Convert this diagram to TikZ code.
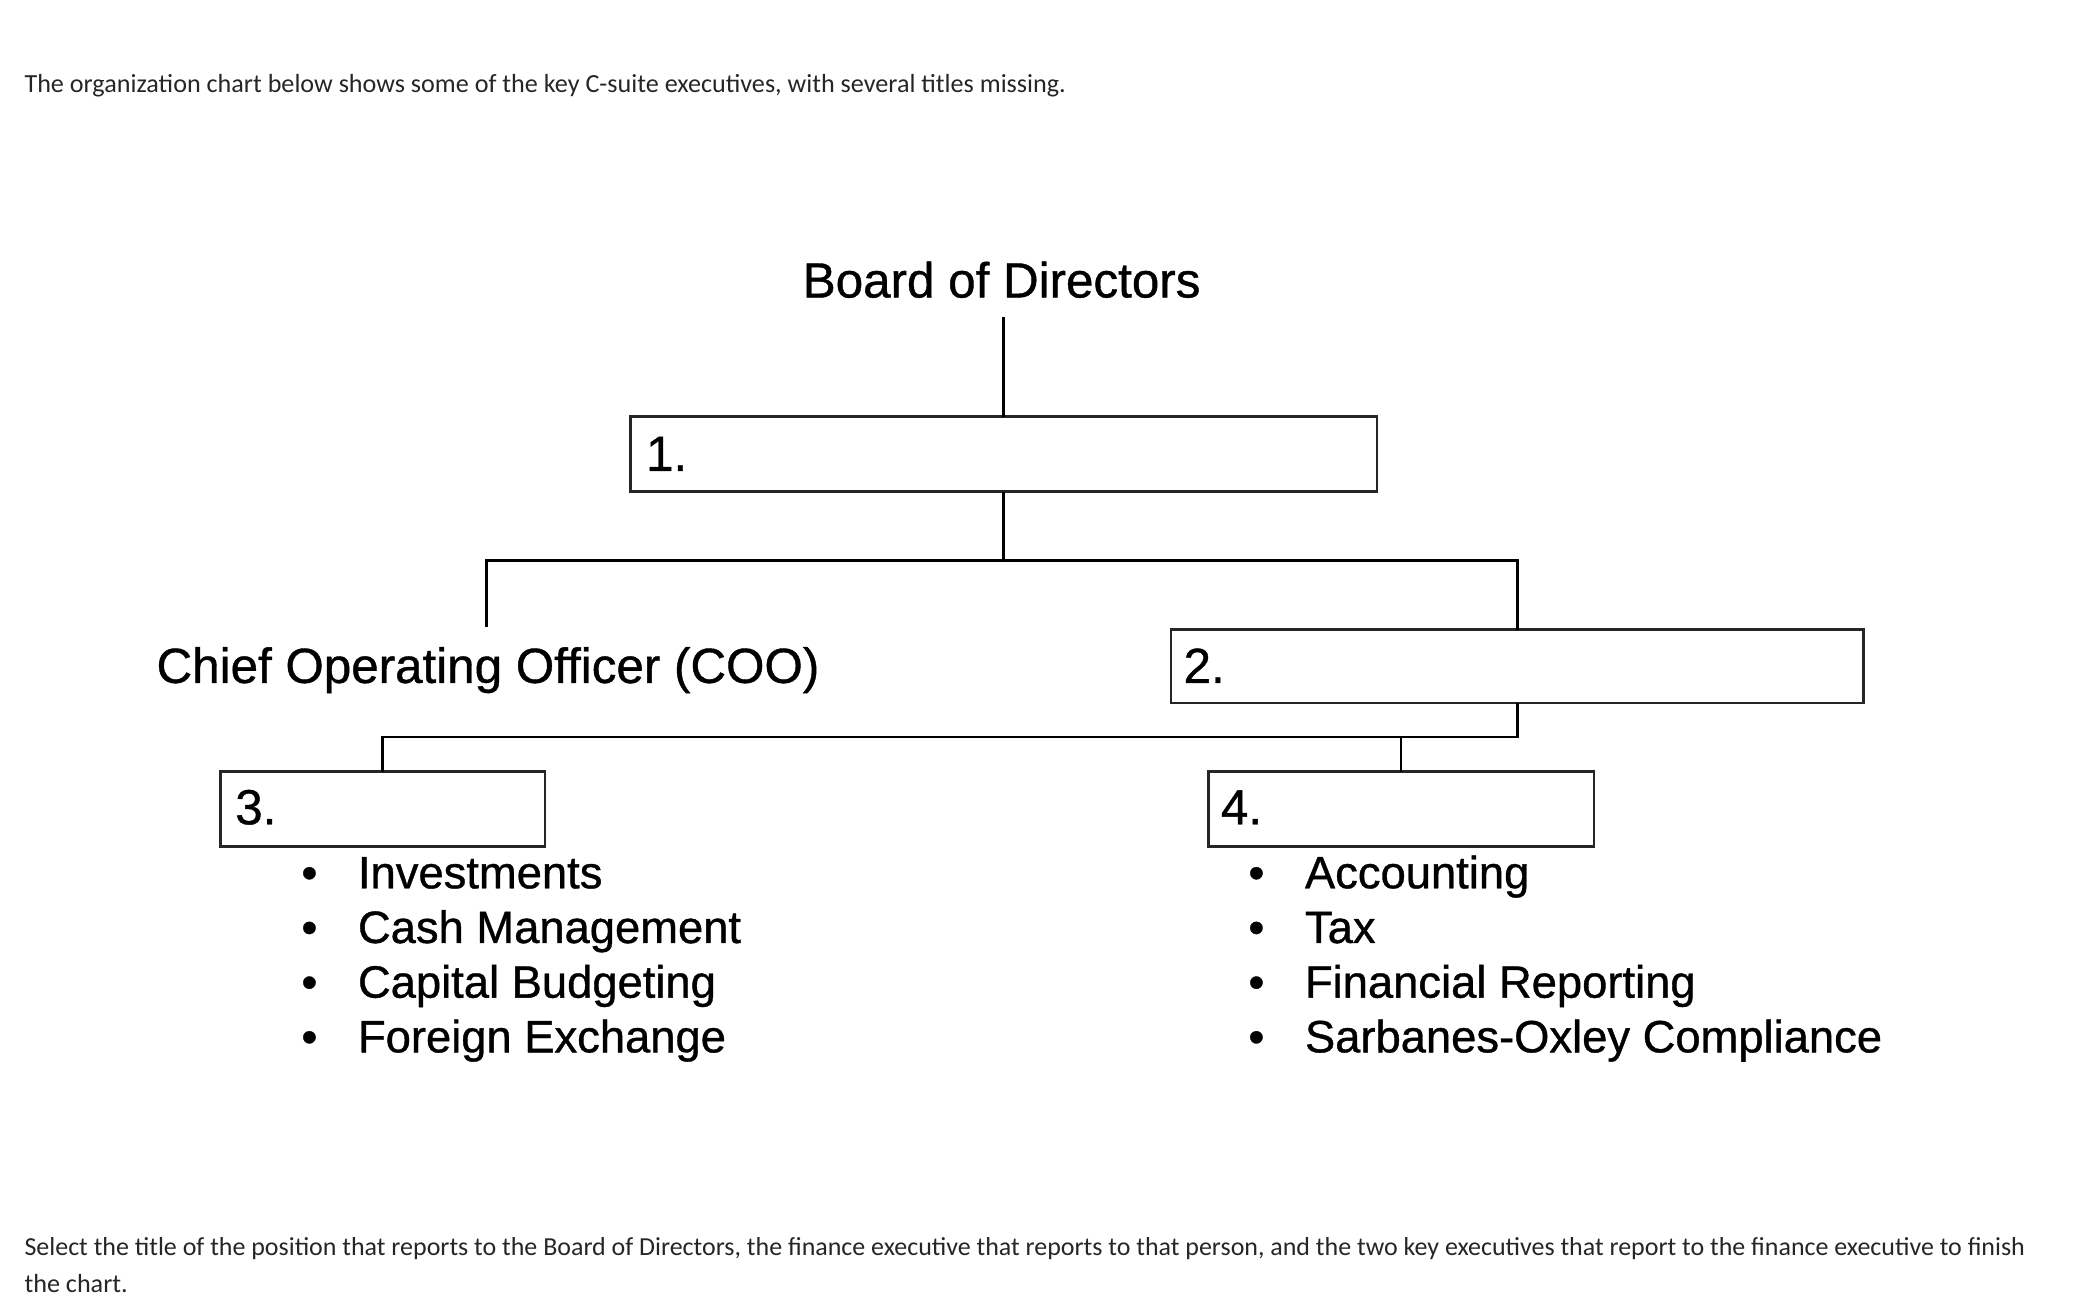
\documentclass[tikz,border=0pt]{standalone}
\usepackage{fontspec}
\newfontfamily\chartfont[FakeBold=0.8]{Liberation Sans}
\newfontfamily\pagefont{Carlito}
\begin{document}
\begin{tikzpicture}[x=0.5pt,y=-0.5pt,
  pagetext/.style={anchor=base west,inner sep=0,text=black!85,font=\pagefont\fontsize{9.8pt}{12pt}\selectfont},
  head/.style={inner sep=0,font=\chartfont\fontsize{18.5pt}{22pt}\selectfont},
  num/.style={anchor=base west,inner sep=0,font=\chartfont\fontsize{18.5pt}{22pt}\selectfont},
  item/.style={anchor=base west,inner sep=0,font=\chartfont\fontsize{17pt}{20pt}\selectfont},
  bul/.style={anchor=base,inner sep=0,font=\chartfont\fontsize{17pt}{20pt}\selectfont},
  blank/.style={draw=black!85,line width=1pt,rectangle,inner sep=0,outer sep=0},
  link/.style={draw=black,line width=1pt}]
\useasboundingbox (0,0) rectangle (1561,980);
% page texts
\node[pagetext] (intro) at (18,69) {The organization chart below shows some of the key C-suite executives, with several titles missing.};
\node[pagetext] (q1) at (18,941) {\fontsize{9.73pt}{12pt}\selectfont Select the title of the position that reports to the Board of Directors, the finance executive that reports to that person, and the two key executives that report to the finance executive to finish};
\node[pagetext] (q2) at (18,969) {the chart.};
% chart
\node[head,anchor=base] (board) at (751,223) {Board of Directors};
\node[head,anchor=base west] (coo) at (117,512) {Chief Operating Officer (COO)};
\node[blank,minimum width=280pt,minimum height=28pt] (b1) at (752.5,340.5) {};
\node[blank,minimum width=259.5pt,minimum height=27.5pt] (b2) at (1137.5,499.5) {};
\node[blank,minimum width=121.5pt,minimum height=28pt] (b3) at (287,606.5) {};
\node[blank,minimum width=144.5pt,minimum height=28pt] (b4) at (1050.5,606.5) {};
\node[num] (n1) at (484,353) {1.};
\node[num] (n2) at (887,512) {2.};
\node[num] (n3) at (176,618) {3.};
\node[num] (n4) at (915,618) {4.};
\coordinate (btop) at (752.5,238);
\coordinate (cootop) at (365,470);
\draw[link] (btop) -- (b1.north);
\draw[link] (b1.south) -- ++(0,51);
\draw[link] (cootop) -- ++(0,-50) -| (b2.north);
\draw[link] (b2.south) -- ++(0,25.5) -| (b3.north);
\draw[link] (b4.north) -- ++(0,-26);
% left list
\node[bul] (lb1) at (232,666) {•};
\node[bul] (lb2) at (232,707) {•};
\node[bul] (lb3) at (232,748) {•};
\node[bul] (lb4) at (232,789) {•};
\node[item] (l1) at (268,666) {Investments};
\node[item] (l2) at (268,707) {Cash Management};
\node[item] (l3) at (268,748) {Capital Budgeting};
\node[item] (l4) at (268,789) {Foreign Exchange};
% right list
\node[bul] (rb1) at (942,666) {•};
\node[bul] (rb2) at (942,707) {•};
\node[bul] (rb3) at (942,748) {•};
\node[bul] (rb4) at (942,789) {•};
\node[item] (r1) at (978,666) {Accounting};
\node[item] (r2) at (978,707) {Tax};
\node[item] (r3) at (978,748) {Financial Reporting};
\node[item] (r4) at (978,789) {Sarbanes-Oxley Compliance};
\end{tikzpicture}
\end{document}
